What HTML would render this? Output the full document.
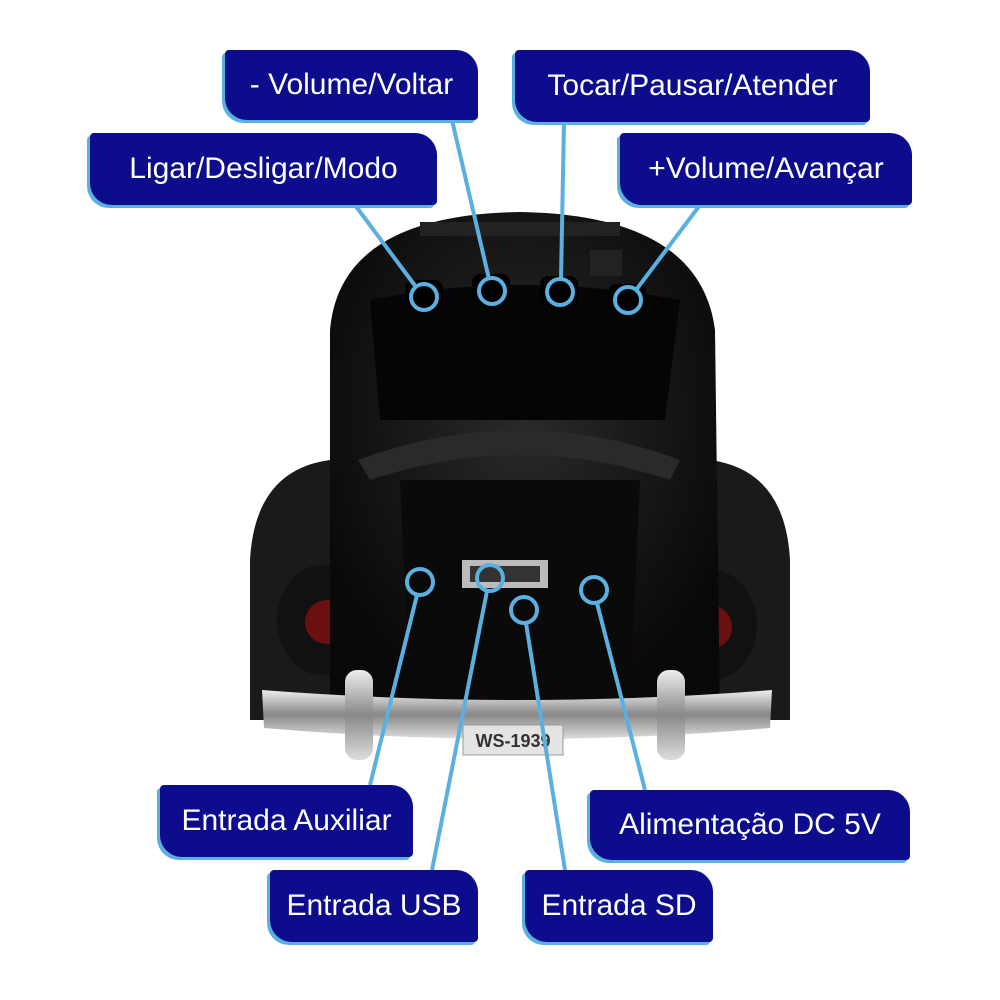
<!DOCTYPE html>
<html><head><style>
body{margin:0;background:#fff}
.b{position:absolute;background:#0c0c8c;color:#fff;font-family:"Liberation Sans",sans-serif;font-size:30px;display:flex;align-items:center;justify-content:center;border-radius:4px 22px 4px 22px;box-shadow:-3px 3px 0 #5ab0e0;white-space:nowrap}
</style></head><body>
<div style="position:relative;width:1000px;height:1000px;overflow:hidden">
<svg width="1000" height="1000" style="position:absolute;left:0;top:0">
<defs>
<radialGradient id="g" cx="50%" cy="40%" r="60%"><stop offset="0" stop-color="#2a2a2a"/><stop offset="1" stop-color="#080808"/></radialGradient>
<linearGradient id="ch" x1="0" y1="0" x2="0" y2="1"><stop offset="0" stop-color="#eee"/><stop offset=".5" stop-color="#888"/><stop offset="1" stop-color="#ddd"/></linearGradient>
</defs>
<!-- fenders -->
<path d="M250 720 L250 560 Q255 470 330 460 L710 460 Q785 470 790 560 L790 720 Z" fill="#1a1a1a"/>
<ellipse cx="322" cy="620" rx="45" ry="55" fill="#111"/>
<ellipse cx="712" cy="625" rx="45" ry="55" fill="#111"/>
<circle cx="327" cy="622" r="22" fill="#6a1010"/>
<circle cx="710" cy="627" r="22" fill="#6a1010"/>
<!-- body -->
<path d="M330 720 L330 330 Q340 215 520 212 Q700 215 715 330 L720 720 Z" fill="url(#g)"/>
<path d="M370 300 Q520 270 680 300 L665 420 L380 420 Z" fill="#050505"/>
<path d="M358 460 Q520 400 680 460 L670 480 Q520 430 370 480 Z" fill="#2a2a2a"/>
<path d="M400 480 L640 480 L630 700 L410 700 Z" fill="#0a0a0a"/>
<rect x="462" y="560" width="86" height="28" fill="#bbb"/>
<rect x="470" y="566" width="70" height="16" fill="#333"/>
<g fill="#222">
<rect x="420" y="222" width="200" height="14"/>
<rect x="590" y="250" width="32" height="26"/>
</g>
<g fill="#000">
<rect x="405" y="280" width="38" height="30" rx="8"/><rect x="472" y="274" width="38" height="30" rx="8"/>
<rect x="540" y="276" width="38" height="30" rx="8"/><rect x="608" y="284" width="38" height="30" rx="8"/>
</g>
<!-- bumper -->
<path d="M262 690 Q520 710 772 690 L770 728 Q520 750 264 728 Z" fill="url(#ch)"/>
<rect x="345" y="670" width="28" height="90" rx="12" fill="url(#ch)"/>
<rect x="657" y="670" width="28" height="90" rx="12" fill="url(#ch)"/>
<rect x="463" y="725" width="100" height="30" fill="#e4e4e4" stroke="#999"/>
<text x="513" y="747" font-family="Liberation Sans" font-weight="bold" font-size="18" fill="#333" text-anchor="middle">WS-1939</text>
<!-- connectors -->
<g stroke="#5ab0e0" stroke-width="4" fill="none">
<line x1="355" y1="205" x2="416" y2="287"/><line x1="452" y1="120" x2="489" y2="279"/>
<line x1="564" y1="122" x2="561" y2="279"/><line x1="700" y1="205" x2="636" y2="290"/>
<line x1="370" y1="785" x2="417" y2="595"/><line x1="432" y1="870" x2="487" y2="591"/>
<line x1="565" y1="870" x2="526" y2="623"/><line x1="645" y1="790" x2="597" y2="603"/>
<circle cx="424" cy="297" r="13"/><circle cx="492" cy="291" r="13"/><circle cx="560" cy="292" r="13"/><circle cx="628" cy="300" r="13"/>
<circle cx="420" cy="582" r="13"/><circle cx="490" cy="578" r="13"/><circle cx="524" cy="610" r="13"/><circle cx="594" cy="590" r="13"/>
</g>
</svg>
<div class="b" style="left:225px;top:50px;width:253px;height:70px">- Volume/Voltar</div>
<div class="b" style="left:90px;top:133px;width:347px;height:72px">Ligar/Desligar/Modo</div>
<div class="b" style="left:515px;top:50px;width:355px;height:72px">Tocar/Pausar/Atender</div>
<div class="b" style="left:620px;top:133px;width:292px;height:72px">+Volume/Avançar</div>
<div class="b" style="left:160px;top:785px;width:253px;height:72px">Entrada Auxiliar</div>
<div class="b" style="left:270px;top:870px;width:208px;height:72px">Entrada USB</div>
<div class="b" style="left:525px;top:870px;width:188px;height:72px">Entrada SD</div>
<div class="b" style="left:590px;top:790px;width:320px;height:70px">Alimentação DC 5V</div>
</div>
</body></html>
